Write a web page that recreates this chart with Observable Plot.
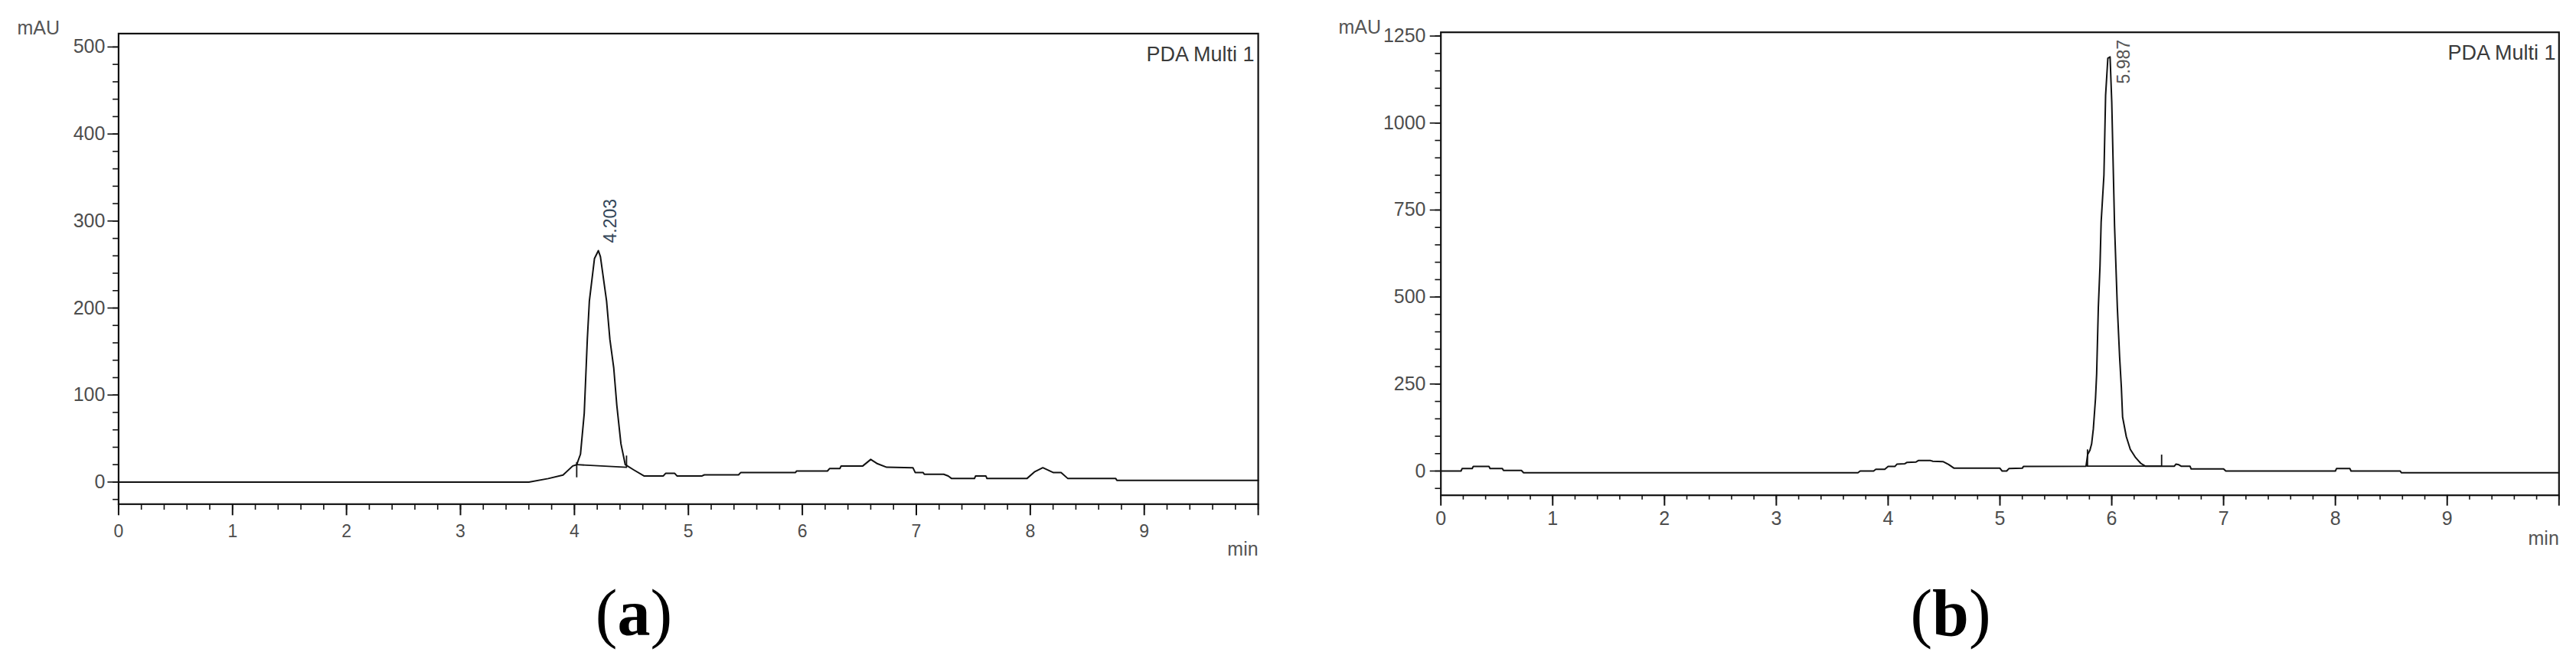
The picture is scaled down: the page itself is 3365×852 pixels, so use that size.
<!DOCTYPE html>
<html><head><meta charset="utf-8">
<script src="https://cdn.jsdelivr.net/npm/d3@7"></script>
<script src="https://cdn.jsdelivr.net/npm/@observablehq/plot@0.6"></script>
<style>
body{margin:0;background:#fff;}
#fig{position:relative;width:3365px;height:852px;background:#fff;overflow:hidden;}
.panel{position:absolute;top:0;}
.cap{position:absolute;top:758px;width:300px;text-align:center;font-family:"Liberation Serif","Times New Roman",serif;font-size:86px;line-height:86px;color:#000;}
.cap b{font-weight:bold;}
</style></head><body>
<div id="fig">
  <div id="pa" class="panel" style="left:0px"></div>
  <div id="pb" class="panel" style="left:1700px"></div>
  <div class="cap" style="left:678px">(<b>a</b>)</div>
  <div class="cap" style="left:2398px">(<b>b</b>)</div>
</div>
<script>
// ---------- Panel (a) data ----------
const aTime = [0, 3.60, 3.77, 3.90, 3.985, 4.02, 4.053, 4.086, 4.113, 4.131, 4.176, 4.21, 4.228, 4.282, 4.311, 4.345, 4.372, 4.408, 4.446, 4.52, 4.61, 4.78, 4.80, 4.88, 4.90, 5.12, 5.14, 5.44, 5.46, 5.94, 5.95, 6.22, 6.24, 6.33, 6.34, 6.53, 6.60, 6.66, 6.74, 6.97, 6.99, 7.06, 7.07, 7.24, 7.28, 7.31, 7.51, 7.52, 7.61, 7.62, 7.97, 8.04, 8.11, 8.20, 8.27, 8.33, 8.75, 8.76, 10.0];
const aSignal = [0, 0, 4, 8, 18.5, 20, 32, 79, 164, 208, 257, 266, 259, 208, 164, 131, 88, 44, 20, 14, 7, 7, 10, 10, 7, 7, 8.3, 8.3, 11, 11, 12.7, 12.7, 15.6, 15.6, 18.5, 18.5, 26, 21, 17, 16.5, 11, 11, 8.9, 8.9, 7, 4, 4, 7, 7, 4, 4, 12, 16.5, 11, 11, 4, 4, 1.9, 1.9];
const aBaseTime = [4.02, 4.457];
const aBaseSignal = [20, 17];
const aMarkTime = [4.02, 4.457];
const aMarkLow = [5, 17];
const aMarkHigh = [22.5, 30];
const aPeakTime = [4.203];
const aPeakSignal = [266];
const aPeakLabel = ["4.203"];
const aYTicks = [0, 100, 200, 300, 400, 500];

// ---------- Panel (b) data ----------
const bTime = [0, 0.18, 0.19, 0.28, 0.29, 0.43, 0.44, 0.55, 0.56, 0.72, 0.74, 3.73, 3.75, 3.87, 3.89, 3.97, 4.00, 4.06, 4.08, 4.15, 4.17, 4.25, 4.27, 4.38, 4.40, 4.49, 4.54, 4.59, 5.00, 5.02, 5.06, 5.08, 5.20, 5.21, 5.77, 5.785, 5.805, 5.82, 5.835, 5.855, 5.865, 5.88, 5.895, 5.905, 5.93, 5.945, 5.965, 5.985, 6.00, 6.025, 6.05, 6.07, 6.086, 6.097, 6.13, 6.166, 6.21, 6.26, 6.30, 6.56, 6.575, 6.60, 6.62, 6.70, 6.71, 7.00, 7.02, 8.00, 8.01, 8.13, 8.14, 8.58, 8.59, 10.0];
const bSignal = [0, 0, 7, 7, 13, 13, 7, 7, 1.5, 1.5, -5, -5, 0, 0, 5, 5, 13, 13, 20, 21, 25, 26, 30, 30, 28, 27, 19, 8, 8, 0, 0, 7, 8, 13, 14, 48, 60, 78, 120, 210, 280, 470, 590, 715, 850, 1080, 1186, 1190, 1060, 705, 470, 330, 240, 155, 99, 62, 40, 22, 14, 14, 20, 18, 14, 14, 6, 6, 0, 0, 7, 7, 0, 0, -5, -5];
const bBaseTime = [5.783, 6.446];
const bBaseSignal = [14, 14];
const bMarkTime = [5.783, 6.446];
const bMarkLow = [11, 14];
const bMarkHigh = [61, 46];
const bPeakTime = [5.987];
const bPeakSignal = [1190];
const bPeakLabel = ["5.987"];
const bYTicks = [0, 250, 500, 750, 1000, 1250];

// ---------- Shared ----------
const xTicks = [0, 1, 2, 3, 4, 5, 6, 7, 8, 9];
const xEndTick = [10];
const yUnit = ["mAU"];
const xUnit = ["min"];
const channelName = ["PDA Multi 1"];

const SANS = '"Liberation Sans", Arial, sans-serif';
const INK = "#111";
const LABEL = "#4d4d4d";
const plain = d => String(d);

function panel(o) {
  const trace = o.time.map((t, i) => ({t, v: o.signal[i]}));
  const base = o.baseTime.map((t, i) => ({t, v: o.baseSignal[i]}));
  const marks = o.markTime.map((t, i) => ({t, lo: o.markLow[i], hi: o.markHigh[i]}));
  const peaks = o.peakTime.map((t, i) => ({t, v: o.peakSignal[i], label: o.peakLabel[i]}));
  const xMinor = d3.range(0, 10.001, 0.2);
  const yMinor = d3.range(o.yMinorStart, o.yDomain[1], o.yMinorStep);
  return Plot.plot({
    width: o.width, height: o.height,
    marginLeft: o.ml, marginRight: o.mr, marginTop: o.mt, marginBottom: o.mb,
    x: {domain: [0, 10]},
    y: {domain: o.yDomain},
    style: {fontFamily: SANS, background: "white", overflow: "visible"},
    marks: [
      Plot.axisY(yMinor, {anchor: "left", tickSize: 7.3, fill: "none", stroke: INK, strokeWidth: 1.6, label: null}),
      Plot.axisY(o.yTicks, {anchor: "left", tickSize: 14, tickPadding: o.yPad, tickFormat: plain, fontSize: 25, fill: LABEL, stroke: INK, strokeWidth: 1.6, label: null}),
      Plot.axisX(xMinor, {anchor: "bottom", tickSize: o.xMinorSize, fill: "none", stroke: INK, strokeWidth: 1.6, label: null}),
      Plot.axisX(xEndTick, {anchor: "bottom", tickSize: o.xTickSize, fill: "none", stroke: INK, strokeWidth: 2, label: null}),
      Plot.axisX(xTicks, {anchor: "bottom", tickSize: o.xTickSize, tickPadding: o.xPad, tickFormat: plain, fontSize: o.xFont, fill: LABEL, stroke: INK, strokeWidth: 2, label: null}),
      Plot.frame({stroke: INK, strokeWidth: 2.2}),
      Plot.line(trace, {x: "t", y: "v", stroke: INK, strokeWidth: 2}),
      Plot.line(base, {x: "t", y: "v", stroke: INK, strokeWidth: 1.8}),
      Plot.ruleX(marks, {x: "t", y1: "lo", y2: "hi", stroke: INK, strokeWidth: 1.8}),
      Plot.text(peaks, {x: "t", y: "v", text: "label", rotate: -90, textAnchor: "start", dx: o.peakDx, dy: o.peakDy, fontSize: 23, fill: o.peakColor}),
      Plot.text(channelName, {text: d => d, frameAnchor: "top-right", textAnchor: "end", dx: o.chDx, dy: o.chDy, fontSize: 27, fill: "#3a3a3a"}),
      Plot.text(yUnit, {text: d => d, frameAnchor: "top-left", textAnchor: "start", dx: o.uDx, dy: o.uDy, fontSize: 25, fill: "#555"}),
      Plot.text(xUnit, {text: d => d, frameAnchor: "bottom-right", textAnchor: "end", dx: 0, dy: o.minDy, fontSize: 25, fill: "#555"})
    ]
  });
}

document.getElementById("pa").appendChild(panel({
  time: aTime, signal: aSignal,
  baseTime: aBaseTime, baseSignal: aBaseSignal,
  markTime: aMarkTime, markLow: aMarkLow, markHigh: aMarkHigh,
  peakTime: aPeakTime, peakSignal: aPeakSignal, peakLabel: aPeakLabel,
  yTicks: aYTicks, yMinorStart: -20, yMinorStep: 20,
  width: 1700, height: 760, ml: 154.4, mr: 56.9, mt: 43.4, mb: 101.7,
  yDomain: [-25.4, 515.4], yPad: 3.5,
  xTickSize: 15, xMinorSize: 7.7, xPad: 11.5, xFont: 23,
  peakDx: 17, peakDy: -10, peakColor: "#35485a",
  chDx: -5, chDy: 16.6, uDx: -132.4, uDy: -17, minDy: 67
}));

document.getElementById("pb").appendChild(panel({
  time: bTime, signal: bSignal,
  baseTime: bBaseTime, baseSignal: bBaseSignal,
  markTime: bMarkTime, markLow: bMarkLow, markHigh: bMarkHigh,
  peakTime: bPeakTime, peakSignal: bPeakSignal, peakLabel: bPeakLabel,
  yTicks: bYTicks, yMinorStart: -50, yMinorStep: 50,
  width: 1665, height: 760, ml: 181.7, mr: 22.7, mt: 41.7, mb: 113.3,
  yDomain: [-69.7, 1260.8], yPad: 5.7,
  xTickSize: 14, xMinorSize: 6, xPad: 7.3, xFont: 25,
  peakDx: 18, peakDy: 35, peakColor: "#555",
  chDx: -4.3, chDy: 16.3, uDx: -133.7, uDy: -15.7, minDy: 65
}));
</script>
</body></html>
